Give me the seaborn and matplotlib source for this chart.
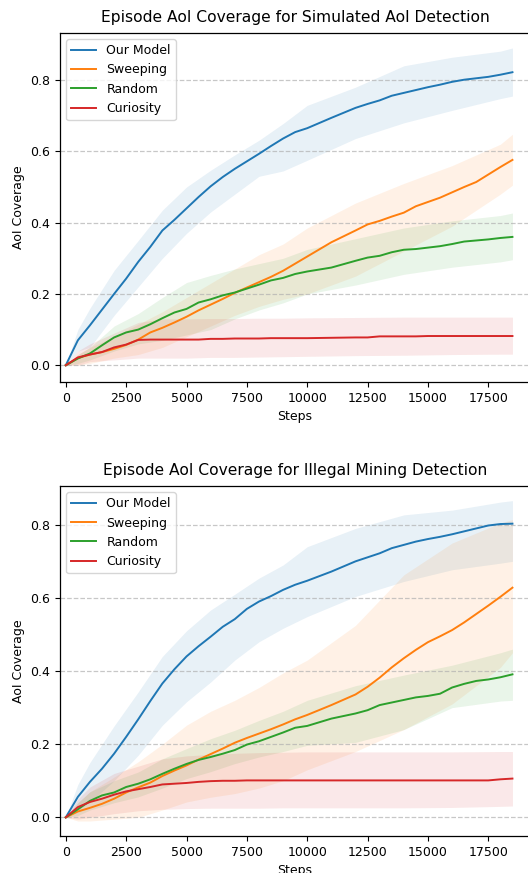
import numpy as np
import pandas as pd
import matplotlib
matplotlib.use("Agg")
import matplotlib.pyplot as plt
import seaborn as sns

# ---------------- data ----------------
steps = [0, 500, 1000, 1500, 2000, 2500, 3000, 3500, 4000, 4500, 5000, 5500,
         6000, 6500, 7000, 7500, 8000, 8500, 9000, 9500, 10000, 11000, 12000,
         12500, 13000, 13500, 14000, 14500, 15000, 15500, 16000, 16500, 17000,
         17500, 18000, 18500]
band_steps = [0, 500, 1000, 2000, 3000, 4000, 5000, 6000, 7000, 8000, 9000,
              10000, 12000, 14000, 16000, 18000, 18500]
methods = ["Our Model", "Sweeping", "Random", "Curiosity"]
titles = ["Episode AoI Coverage for Simulated AoI Detection",
          "Episode AoI Coverage for Illegal Mining Detection"]

# Simulated AoI detection (top)
sim_model = [0, 0.07, 0.112, 0.156, 0.20, 0.243, 0.29, 0.332, 0.378, 0.408, 0.44, 0.472,
             0.502, 0.528, 0.551, 0.572, 0.593, 0.615, 0.636, 0.654, 0.665, 0.694, 0.722,
             0.733, 0.743, 0.756, 0.764, 0.772, 0.78, 0.787, 0.795, 0.801, 0.805,
             0.809, 0.815, 0.822]
sim_sweep = [0, 0.02, 0.03, 0.037, 0.046, 0.057, 0.072, 0.092, 0.105, 0.12, 0.136, 0.154,
             0.17, 0.186, 0.203, 0.218, 0.233, 0.248, 0.265, 0.285, 0.305, 0.345, 0.378,
             0.395, 0.405, 0.417, 0.428, 0.446, 0.458, 0.47, 0.485, 0.5, 0.514,
             0.535, 0.556, 0.576]
sim_random = [0, 0.019, 0.033, 0.056, 0.078, 0.092, 0.10, 0.115, 0.132, 0.148, 0.158, 0.176,
              0.185, 0.196, 0.204, 0.215, 0.226, 0.238, 0.245, 0.256, 0.263, 0.274, 0.293,
              0.302, 0.307, 0.317, 0.324, 0.326, 0.33, 0.334, 0.34, 0.347, 0.35,
              0.353, 0.357, 0.36]
sim_curio = [0, 0.022, 0.03, 0.037, 0.05, 0.058, 0.071, 0.072, 0.072, 0.072, 0.072, 0.072,
             0.074, 0.074, 0.075, 0.075, 0.075, 0.076, 0.076, 0.076, 0.076, 0.077, 0.078,
             0.078, 0.081, 0.081, 0.081, 0.081, 0.082, 0.082, 0.082, 0.082, 0.082,
             0.082, 0.082, 0.082]

sim_model_lo = [0, 0.04, 0.05, 0.14, 0.22, 0.30, 0.37, 0.43, 0.48, 0.53, 0.545, 0.575, 0.636, 0.68, 0.715, 0.748, 0.755]
sim_model_hi = [0, 0.10, 0.16, 0.266, 0.35, 0.435, 0.50, 0.547, 0.59, 0.631, 0.678, 0.729, 0.78, 0.84, 0.864, 0.881, 0.89]
sim_sweep_lo = [0, 0.0, 0.005, 0.02, 0.03, 0.05, 0.08, 0.11, 0.14, 0.165, 0.185, 0.20, 0.25, 0.32, 0.39, 0.48, 0.505]
sim_sweep_hi = [0, 0.03, 0.05, 0.08, 0.115, 0.15, 0.19, 0.23, 0.27, 0.31, 0.34, 0.385, 0.455, 0.51, 0.56, 0.62, 0.648]
sim_random_lo = [0, 0.005, 0.015, 0.04, 0.06, 0.07, 0.085, 0.10, 0.13, 0.155, 0.175, 0.20, 0.225, 0.255, 0.275, 0.29, 0.296]
sim_random_hi = [0, 0.03, 0.05, 0.11, 0.145, 0.19, 0.232, 0.252, 0.27, 0.285, 0.30, 0.325, 0.355, 0.385, 0.405, 0.42, 0.427]
sim_curio_lo = [0, 0.0, 0.01, 0.015, 0.02, 0.02, 0.02, 0.022, 0.022, 0.023, 0.024, 0.025, 0.027, 0.028, 0.03, 0.031, 0.031]
sim_curio_hi = [0, 0.04, 0.06, 0.09, 0.12, 0.13, 0.13, 0.131, 0.131, 0.132, 0.132, 0.133, 0.134, 0.135, 0.135, 0.135, 0.135]

# Illegal mining detection (bottom)
min_model = [0, 0.056, 0.097, 0.133, 0.174, 0.22, 0.268, 0.318, 0.366, 0.405, 0.44, 0.468,
             0.494, 0.521, 0.542, 0.57, 0.59, 0.605, 0.622, 0.636, 0.647, 0.672, 0.70,
             0.711, 0.722, 0.736, 0.745, 0.754, 0.761, 0.767, 0.774, 0.782, 0.79,
             0.798, 0.802, 0.803]
min_sweep = [0, 0.016, 0.026, 0.037, 0.051, 0.068, 0.082, 0.095, 0.113, 0.128, 0.142, 0.158,
             0.173, 0.188, 0.204, 0.217, 0.229, 0.241, 0.254, 0.268, 0.28, 0.307, 0.336,
             0.357, 0.382, 0.41, 0.435, 0.458, 0.479, 0.495, 0.512, 0.533, 0.556,
             0.579, 0.603, 0.628]
min_random = [0, 0.022, 0.045, 0.06, 0.068, 0.083, 0.092, 0.104, 0.119, 0.133, 0.146, 0.157,
              0.165, 0.174, 0.184, 0.199, 0.208, 0.22, 0.232, 0.245, 0.25, 0.27, 0.284,
              0.293, 0.307, 0.314, 0.321, 0.328, 0.332, 0.338, 0.355, 0.365, 0.373,
              0.377, 0.383, 0.391]
min_curio = [0, 0.028, 0.042, 0.051, 0.062, 0.071, 0.077, 0.083, 0.09, 0.092, 0.094, 0.097,
             0.099, 0.1, 0.1, 0.101, 0.101, 0.101, 0.101, 0.101, 0.101, 0.101, 0.101,
             0.101, 0.101, 0.101, 0.101, 0.101, 0.101, 0.101, 0.101, 0.101, 0.101,
             0.101, 0.104, 0.106]

min_model_lo = [0, 0.02, 0.042, 0.10, 0.17, 0.252, 0.316, 0.37, 0.43, 0.48, 0.517, 0.549, 0.604, 0.645, 0.677, 0.695, 0.70]
min_model_hi = [0, 0.09, 0.15, 0.25, 0.343, 0.44, 0.51, 0.567, 0.61, 0.654, 0.69, 0.74, 0.79, 0.827, 0.84, 0.862, 0.866]
min_sweep_lo = [0, -0.01, -0.01, -0.005, 0.0, 0.02, 0.042, 0.055, 0.065, 0.08, 0.10, 0.13, 0.18, 0.24, 0.31, 0.41, 0.45]
min_sweep_hi = [0, 0.04, 0.07, 0.11, 0.152, 0.20, 0.252, 0.29, 0.32, 0.355, 0.395, 0.43, 0.525, 0.663, 0.75, 0.805, 0.814]
min_random_lo = [0, 0.005, 0.02, 0.04, 0.056, 0.08, 0.106, 0.125, 0.147, 0.165, 0.18, 0.197, 0.205, 0.24, 0.30, 0.318, 0.32]
min_random_hi = [0, 0.04, 0.07, 0.10, 0.124, 0.16, 0.188, 0.215, 0.238, 0.265, 0.29, 0.32, 0.36, 0.389, 0.416, 0.45, 0.46]
min_curio_lo = [0, -0.005, 0.0, 0.01, 0.018, 0.022, 0.024, 0.025, 0.025, 0.025, 0.026, 0.026, 0.026, 0.026, 0.027, 0.03, 0.031]
min_curio_hi = [0, 0.05, 0.083, 0.12, 0.14, 0.16, 0.168, 0.172, 0.175, 0.177, 0.178, 0.179, 0.179, 0.179, 0.179, 0.18, 0.18]

panels = [
    dict(title=titles[0],
         means=[sim_model, sim_sweep, sim_random, sim_curio],
         los=[sim_model_lo, sim_sweep_lo, sim_random_lo, sim_curio_lo],
         his=[sim_model_hi, sim_sweep_hi, sim_random_hi, sim_curio_hi],
         ylim=(-0.047, 0.932)),
    dict(title=titles[1],
         means=[min_model, min_sweep, min_random, min_curio],
         los=[min_model_lo, min_sweep_lo, min_random_lo, min_curio_lo],
         his=[min_model_hi, min_sweep_hi, min_random_hi, min_curio_hi],
         ylim=(-0.051, 0.906)),
]

# ---------------- plot ----------------
plt.rcParams['font.family'] = ['DejaVu Sans']
plt.rcParams['xtick.labelsize'] = 9
plt.rcParams['ytick.labelsize'] = 9
plt.rcParams['axes.linewidth'] = 0.9
colors = sns.color_palette("tab10", 4)
palette = dict(zip(methods, colors))

W, H = 528, 873
fig = plt.figure(figsize=(W / 100, H / 100), dpi=100)
boxes = [(60, 33, 530, 382), (60, 486, 530, 836)]  # pixel boxes l, t, r, b

for (l, t, r, b), p in zip(boxes, panels):
    ax = fig.add_axes([l / W, 1 - b / H, (r - l) / W, (b - t) / H])
    rows = []
    for m, vals in zip(methods, p["means"]):
        for s, v in zip(steps, vals):
            rows.append((m, s, v))
    df = pd.DataFrame(rows, columns=["Method", "Steps", "AoI Coverage"])
    sns.lineplot(data=df, x="Steps", y="AoI Coverage", hue="Method",
                 hue_order=methods, palette=palette, linewidth=1.4, ax=ax,
                 errorbar=None)
    for m, lo, hi in zip(methods, p["los"], p["his"]):
        ax.fill_between(band_steps, lo, hi, color=palette[m], alpha=0.1,
                        linewidth=0)
    ax.set_title(p["title"], fontsize=11.2, pad=8)
    ax.set_xlabel("Steps", fontsize=9)
    ax.set_ylabel("AoI Coverage", fontsize=9)
    ax.set_xlim(-240, 19227)
    ax.set_ylim(*p["ylim"])
    ax.set_xticks([0, 2500, 5000, 7500, 10000, 12500, 15000, 17500])
    ax.set_yticks([0.0, 0.2, 0.4, 0.6, 0.8])
    ax.set_yticklabels(["0.0", "0.2", "0.4", "0.6", "0.8"])
    ax.yaxis.grid(True, linestyle="--", alpha=0.7, linewidth=0.9)
    ax.xaxis.grid(False)
    ax.legend(loc="upper left", fontsize=9)

fig.savefig("out.png", dpi=100)
